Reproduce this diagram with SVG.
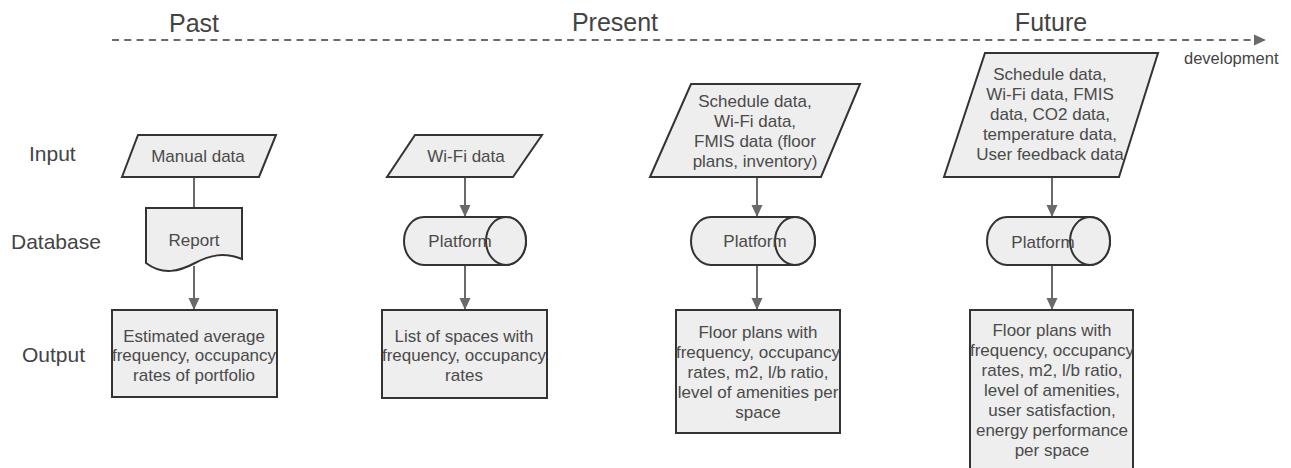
<svg xmlns="http://www.w3.org/2000/svg" width="1291" height="468" viewBox="0 0 1291 468">
<style>
.shape{fill:#eeeeee;stroke:#333333;stroke-width:2}
.t{font-family:"Liberation Sans",Arial,sans-serif;font-size:17px;fill:#4a4a4a;text-anchor:middle}
.lbl{font-family:"Liberation Sans",Arial,sans-serif;font-size:21px;fill:#444444}
.hdr{font-family:"Liberation Sans",Arial,sans-serif;font-size:25px;fill:#444444;text-anchor:middle}
.conn{stroke:#6a6a6a;stroke-width:2;fill:none}
</style>
<defs>
<marker id="ah" markerUnits="userSpaceOnUse" markerWidth="12" markerHeight="12" refX="12" refY="6" orient="auto">
<path d="M0,0.5 L12,6 L0,11.5 Z" fill="#6a6a6a"/>
</marker>
</defs>
<rect width="1291" height="468" fill="#ffffff"/>
<g id="timeline">
<text class="hdr" x="194" y="32">Past</text>
<text class="hdr" x="615" y="31">Present</text>
<text class="hdr" x="1051" y="31">Future</text>
<text x="1184" y="64" style="font-family:'Liberation Sans',Arial,sans-serif;font-size:16.5px;fill:#444444">development</text>
</g>
<g id="labels">
<text class="lbl" x="29" y="161">Input</text>
<text class="lbl" x="11" y="249">Database</text>
<text class="lbl" x="22" y="362">Output</text>
</g>
<g id="connectors">
<line class="conn" x1="112" y1="40" x2="1266" y2="40" stroke-dasharray="7,5.3" marker-end="url(#ah)"/>
<line class="conn" x1="194" y1="177" x2="194" y2="208"/>
<line class="conn" x1="194" y1="266" x2="194" y2="310" marker-end="url(#ah)"/>
<line class="conn" x1="465" y1="177" x2="465" y2="217" marker-end="url(#ah)"/>
<line class="conn" x1="465" y1="265" x2="465" y2="310" marker-end="url(#ah)"/>
<line class="conn" x1="757" y1="177" x2="757" y2="217" marker-end="url(#ah)"/>
<line class="conn" x1="757" y1="265" x2="757" y2="310" marker-end="url(#ah)"/>
<line class="conn" x1="1052" y1="177" x2="1052" y2="217" marker-end="url(#ah)"/>
<line class="conn" x1="1052" y1="265" x2="1052" y2="310" marker-end="url(#ah)"/>
</g>
<g id="past-input">
<polygon class="shape" points="138,135 276,135 259,177 122,177"/>
<text class="t" x="198" y="162">Manual data</text>
</g>
<g id="past-database">
<path class="shape" d="M146,208 L242,208 L242,259 C224,252 210,255 195,263 C180,271 163,276 146,263 Z"/>
<text class="t" x="194" y="246">Report</text>
</g>
<g id="past-output">
<rect class="shape" x="112" y="310" width="165" height="87"/>
<text class="t" x="194" y="342">Estimated average</text>
<text class="t" x="194" y="361">frequency, occupancy</text>
<text class="t" x="194" y="381">rates of portfolio</text>
</g>
<g id="present1-input">
<polygon class="shape" points="415,135 542,135 513,177 387,177"/>
<text class="t" x="466" y="162">Wi-Fi data</text>
</g>
<g id="present1-database">
<path class="shape" d="M424,217 H506 A20,24 0 0 1 506,265 H424 A20,24 0 0 1 424,217 Z"/>
<ellipse class="shape" cx="506" cy="241" rx="20" ry="24"/>
<text class="t" x="460" y="247">Platform</text>
</g>
<g id="present1-output">
<rect class="shape" x="382" y="310" width="165" height="88"/>
<text class="t" x="464" y="342">List of spaces with</text>
<text class="t" x="464" y="361">frequency, occupancy</text>
<text class="t" x="464" y="381">rates</text>
</g>
<g id="present2-input">
<polygon class="shape" points="691,84 860,84 821,177 650,177"/>
<text class="t" x="755" y="107">Schedule data,</text>
<text class="t" x="755" y="127">Wi-Fi data,</text>
<text class="t" x="755" y="147">FMIS data (floor</text>
<text class="t" x="755" y="167">plans, inventory)</text>
</g>
<g id="present2-database">
<path class="shape" d="M711,217 H795 A20,24 0 0 1 795,265 H711 A20,24 0 0 1 711,217 Z"/>
<ellipse class="shape" cx="795" cy="241" rx="20" ry="24"/>
<text class="t" x="755" y="247">Platform</text>
</g>
<g id="present2-output">
<rect class="shape" x="676" y="310" width="164" height="123"/>
<text class="t" x="758" y="338">Floor plans with</text>
<text class="t" x="758" y="358">frequency, occupancy</text>
<text class="t" x="758" y="378">rates, m2, l/b ratio,</text>
<text class="t" x="758" y="398">level of amenities per</text>
<text class="t" x="758" y="418">space</text>
</g>
<g id="future-input">
<polygon class="shape" points="985,53 1158,53 1119,177 944,177"/>
<text class="t" x="1050" y="80">Schedule data,</text>
<text class="t" x="1050" y="100">Wi-Fi data, FMIS</text>
<text class="t" x="1050" y="120">data, CO2 data,</text>
<text class="t" x="1050" y="140">temperature data,</text>
<text class="t" x="1050" y="160">User feedback data</text>
</g>
<g id="future-database">
<path class="shape" d="M1007,217 H1090 A20,24 0 0 1 1090,265 H1007 A20,24 0 0 1 1007,217 Z"/>
<ellipse class="shape" cx="1090" cy="241" rx="20" ry="24"/>
<text class="t" x="1043" y="248">Platform</text>
</g>
<g id="future-output">
<rect class="shape" x="970" y="310" width="163" height="170"/>
<text class="t" x="1052" y="336">Floor plans with</text>
<text class="t" x="1052" y="356">frequency, occupancy</text>
<text class="t" x="1052" y="376">rates, m2, l/b ratio,</text>
<text class="t" x="1052" y="396">level of amenities,</text>
<text class="t" x="1052" y="416">user satisfaction,</text>
<text class="t" x="1052" y="436">energy performance</text>
<text class="t" x="1052" y="456">per space</text>
</g>
</svg>
